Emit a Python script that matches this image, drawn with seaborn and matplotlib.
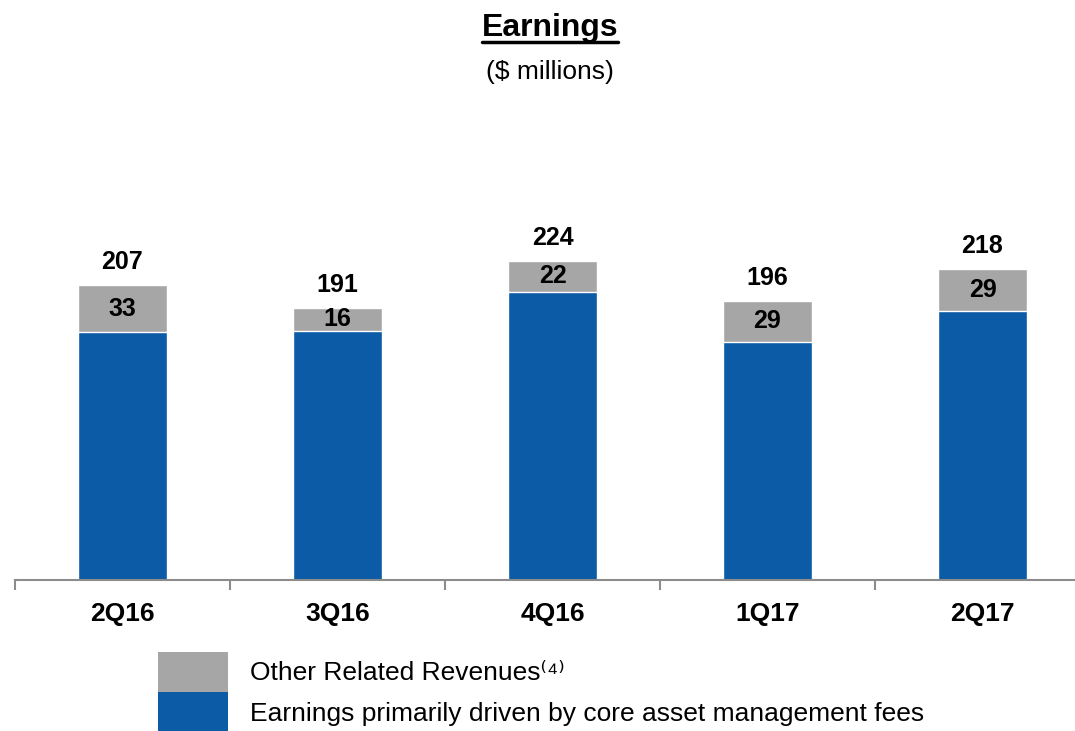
import numpy as np
import matplotlib
matplotlib.use("Agg")
import matplotlib.pyplot as plt
import seaborn as sns
from matplotlib.patches import Patch

# Data
quarters = ['2Q16', '3Q16', '4Q16', '1Q17', '2Q17']
totals = [207, 191, 224, 196, 218]
other_rev = [33, 16, 22, 29, 29]
core_fees = [t - o for t, o in zip(totals, other_rev)]

blue = '#0B5BA6'
grey = '#A6A6A6'

sns.set_theme(style='white')
plt.rcParams['font.family'] = ['Liberation Sans', 'DejaVu Sans']
plt.rcParams['text.color'] = 'black'
plt.rcParams['xtick.color'] = 'black'

fig = plt.figure(figsize=(10.75, 7.31), dpi=100)
ax = fig.add_axes([15 / 1075, 1 - 580 / 731, 1.0, 0.49])

# grey = total height, blue drawn on top
sns.barplot(x=quarters, y=totals, color=grey, width=0.41, saturation=1, ax=ax)
sns.barplot(x=quarters, y=core_fees, color=blue, width=0.41, saturation=1, ax=ax)

ax.set_xlim(-0.5, 4.5)
ax.set_ylim(0, 0.49 * 731 / 1.425)

# labels
grey_bars = ax.containers[0]
ax.bar_label(grey_bars, labels=[str(t) for t in totals], padding=8,
             fontsize=18, fontweight='bold', color='black')
for rect, o, c in zip(grey_bars, other_rev, core_fees):
    ax.text(rect.get_x() + rect.get_width() / 2, c + o / 2, str(o),
            ha='center', va='center', fontsize=18, fontweight='bold', color='black')

# axis styling
for s in ['top', 'right', 'left']:
    ax.spines[s].set_visible(False)
ax.spines['bottom'].set_color('#8C8C8C')
ax.spines['bottom'].set_linewidth(1.5)
ax.set_yticks([])
ax.set_ylabel('')
ax.set_xticks(np.arange(-0.5, 5, 1), minor=True)
ax.tick_params(axis='x', which='minor', bottom=True, length=7, width=1.5, color='#8C8C8C')
ax.tick_params(axis='x', which='major', bottom=False, pad=10, labelcolor='black')
for lbl in ax.get_xticklabels():
    lbl.set_fontsize(19)
    lbl.set_fontweight('bold')

# titles
t = fig.text(550 / 1075, 1 - 28 / 731, 'Earnings', ha='center', va='center',
             fontsize=23, fontweight='bold')
fig.text(550 / 1075, 1 - 72 / 731, '($ millions)', ha='center', va='center', fontsize=19)
fig.canvas.draw()
bb = t.get_window_extent()
fig.add_artist(plt.Line2D([bb.x0 / fig.bbox.width, bb.x1 / fig.bbox.width],
                          [(bb.y0 + 1) / fig.bbox.height] * 2,
                          color='black', linewidth=2.5))

# legend
handles = [Patch(facecolor=grey, edgecolor='none'), Patch(facecolor=blue, edgecolor='none')]
fig.legend(handles, ['Other Related Revenues\u207d\u2074\u207e',
                     'Earnings primarily driven by core asset management fees'],
           loc='upper left', bbox_to_anchor=(158 / 1075, 1 - 652 / 731),
           frameon=False, fontsize=19, handlelength=2.65, handleheight=1.96,
           labelspacing=0.0, handletextpad=0.83, borderpad=0.0, borderaxespad=0.0)

fig.savefig('out.png', dpi=100)
